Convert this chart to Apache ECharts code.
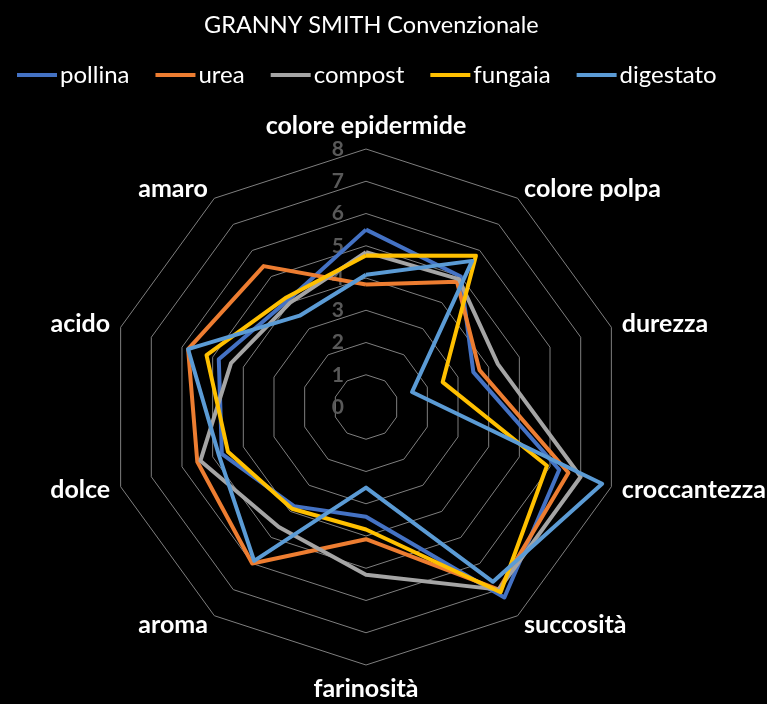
<!DOCTYPE html>
<html>
<head>
<meta charset="utf-8">
<script src="https://cdn.jsdelivr.net/npm/echarts@6.0.0/dist/echarts.min.js"></script>
<style>
html, body { margin: 0; padding: 0; background: #000; }
#main { width: 767px; height: 704px; }
</style>
</head>
<body>
<div id="main"></div>
<script>
// assi in senso orario a partire dall'alto
var categorie = ['colore epidermide', 'colore polpa', 'durezza', 'croccantezza', 'succosità',
    'farinosità', 'aroma', 'dolce', 'acido', 'amaro'];

var pollina   = [5.5, 5.0, 3.5, 6.3, 7.3, 3.4, 3.8, 4.7, 4.8, 4.1];
var urea      = [3.8, 4.8, 3.7, 6.6, 7.0, 4.1, 6.0, 5.5, 5.8, 5.4];
var compost   = [4.8, 4.9, 4.3, 7.0, 7.0, 5.2, 4.6, 5.4, 4.4, 4.0];
var fungaia   = [4.7, 5.8, 2.5, 5.9, 7.1, 3.8, 3.9, 4.5, 5.2, 4.2];
var digestato = [4.1, 5.6, 1.5, 7.7, 6.7, 2.5, 5.9, 4.8, 5.8, 3.5];

var nomiSerie = ['pollina', 'urea', 'compost', 'fungaia', 'digestato'];
var valoriSerie = [pollina, urea, compost, fungaia, digestato];
var colori = ['#4472C4', '#ED7D31', '#A5A5A5', '#FFC000', '#5B9BD5'];

// echarts disegna il radar in senso antiorario: primo asse fermo, il resto invertito
function orario(arr) {
    return [arr[0]].concat(arr.slice(1).reverse());
}

var myChart = echarts.init(document.getElementById('main'));

var indicatori = orario(categorie).map(function (nome, i) {
    var ind = {name: nome, min: 0, max: 8};
    if (i === 0) {
        ind.axisLabel = {show: true};
    }
    return ind;
});

var option = {
    backgroundColor: '#000',
    animation: false,
    title: {
        text: 'GRANNY SMITH Convenzionale',
        left: 199,
        top: 8,
        textStyle: {
            color: '#fff',
            fontFamily: 'Lato',
            fontWeight: 'normal',
            fontSize: 23.5
        }
    },
    legend: {
        data: nomiSerie,
        top: 58,
        left: 12,
        icon: 'rect',
        itemWidth: 40,
        itemHeight: 4,
        itemGap: 26,
        textStyle: {
            color: '#fff',
            fontFamily: 'Lato',
            fontSize: 24,
            padding: [0, 0, 0, -2]
        }
    },
    radar: {
        center: [366, 407],
        radius: 258,
        startAngle: 90,
        shape: 'polygon',
        splitNumber: 8,
        axisName: {
            color: '#fff',
            fontFamily: 'Lato',
            fontWeight: 'bold',
            fontSize: 25
        },
        nameGap: 11,
        axisLine: {show: false},
        axisTick: {show: false},
        axisLabel: {
            show: false,
            color: '#595959',
            fontFamily: 'Lato',
            fontWeight: 'bold',
            fontSize: 21,
            margin: 22
        },
        splitLine: {
            lineStyle: {color: '#7f7f7f', width: 1}
        },
        splitArea: {show: false},
        indicator: indicatori
    },
    series: [{
        type: 'radar',
        symbol: 'none',
        data: nomiSerie.map(function (nome, i) {
            return {
                name: nome,
                value: orario(valoriSerie[i]),
                lineStyle: {color: colori[i], width: 4},
                itemStyle: {color: colori[i]}
            };
        })
    }]
};

myChart.setOption(option);
</script>
</body>
</html>
